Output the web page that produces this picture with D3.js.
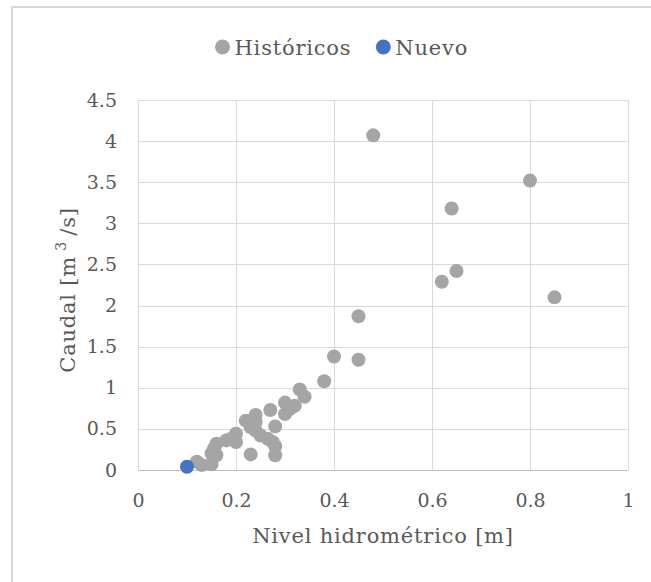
<!DOCTYPE html>
<html>
<head>
<meta charset="utf-8">
<script src="https://cdn.jsdelivr.net/npm/d3@7"></script>
<style>
  html, body { margin: 0; padding: 0; background: #fff; }
  svg { display: block; }
  text { font-family: "DejaVu Serif", "Liberation Serif", serif; fill: #595959; }
</style>
</head>
<body>
<svg id="chart" width="651" height="582"></svg>
<script>
// Historical gauge readings: level [m] and flow [m3/s]
const histLevel = [0.48, 0.80, 0.64, 0.65, 0.62, 0.85, 0.45, 0.40, 0.45, 0.38,
  0.33, 0.34, 0.30, 0.32, 0.31, 0.30, 0.27, 0.24, 0.22, 0.24,
  0.28, 0.23, 0.24, 0.25, 0.265, 0.275, 0.28, 0.20, 0.19, 0.18,
  0.20, 0.16, 0.155, 0.15, 0.16, 0.23, 0.28, 0.12, 0.13, 0.15];
const histFlow = [4.07, 3.52, 3.18, 2.42, 2.29, 2.10, 1.87, 1.38, 1.34, 1.08,
  0.98, 0.89, 0.82, 0.78, 0.74, 0.68, 0.73, 0.67, 0.60, 0.58,
  0.53, 0.52, 0.48, 0.42, 0.38, 0.34, 0.29, 0.44, 0.38, 0.36,
  0.34, 0.32, 0.26, 0.20, 0.18, 0.19, 0.18, 0.10, 0.06, 0.07];
const newLevel = [0.10];
const newFlow = [0.04];

const xTicks = [0, 0.2, 0.4, 0.6, 0.8, 1];
const yTicks = [0, 0.5, 1, 1.5, 2, 2.5, 3, 3.5, 4, 4.5];

const series = [
  { name: 'Históricos', color: '#A5A5A5', x: histLevel, y: histFlow },
  { name: 'Nuevo', color: '#4472C4', x: newLevel, y: newFlow },
];

const svg = d3.select('#chart');
const plot = { left: 138, right: 628, top: 100, bottom: 470 };

const x = d3.scaleLinear().domain([0, 1]).range([plot.left, plot.right]);
const y = d3.scaleLinear().domain([0, 4.5]).range([plot.bottom, plot.top]);

// Chart frame (cut off on right/bottom like the source)
svg.append('path')
  .attr('d', 'M12,582 L12,7 L651,7')
  .attr('fill', 'none').attr('stroke', '#D9D9D9').attr('stroke-width', 2);

// Gridlines
svg.append('g').selectAll('line').data(yTicks.slice(1)).enter().append('line')
  .attr('x1', plot.left).attr('x2', plot.right)
  .attr('y1', d => Math.round(y(d)) + 0.5).attr('y2', d => Math.round(y(d)) + 0.5)
  .attr('stroke', '#D9D9D9').attr('stroke-width', 1);
svg.append('g').selectAll('line').data(xTicks).enter().append('line')
  .attr('y1', plot.top).attr('y2', plot.bottom)
  .attr('x1', d => Math.round(x(d)) + 0.5).attr('x2', d => Math.round(x(d)) + 0.5)
  .attr('stroke', '#D9D9D9').attr('stroke-width', 1);

// X axis line
svg.append('line')
  .attr('x1', plot.left).attr('x2', plot.right)
  .attr('y1', plot.bottom + 0.5).attr('y2', plot.bottom + 0.5)
  .attr('stroke', '#BFBFBF').attr('stroke-width', 1);

// Tick labels via d3 axes (tick marks hidden)
const xAxis = svg.append('g')
  .attr('transform', `translate(0,${plot.bottom})`)
  .call(d3.axisBottom(x).tickValues(xTicks).tickSize(0).tickPadding(24).tickFormat(d3.format('')));
const yAxis = svg.append('g')
  .attr('transform', `translate(${plot.left},0)`)
  .call(d3.axisLeft(y).tickValues(yTicks).tickSize(0).tickPadding(21).tickFormat(d3.format('')));
[xAxis, yAxis].forEach(a => {
  a.select('.domain').remove();
  a.selectAll('text').attr('font-family', '"DejaVu Serif", serif').attr('font-size', 19).attr('fill', '#595959');
});

// Axis titles
svg.append('text')
  .attr('x', (plot.left + plot.right) / 2).attr('y', 543)
  .attr('text-anchor', 'middle').attr('font-size', 21).attr('letter-spacing', 0.8)
  .text('Nivel hidrométrico [m]');

const yTitle = svg.append('text')
  .attr('transform', 'translate(75,290) rotate(-90)')
  .attr('text-anchor', 'middle').attr('font-size', 21).attr('letter-spacing', 0.8);
yTitle.append('tspan').text('Caudal [m');
yTitle.append('tspan').attr('dy', -9).attr('font-size', 14).text(' 3 ');
yTitle.append('tspan').attr('dy', 9).text('/s]');

// Points
series.forEach(s => {
  svg.append('g').selectAll('circle').data(s.x.map((v, i) => [v, s.y[i]])).enter()
    .append('circle')
    .attr('cx', d => x(d[0])).attr('cy', d => y(d[1]))
    .attr('r', 7)
    .attr('fill', s.color);
});

// Legend
const legend = svg.append('g').attr('transform', 'translate(0,47)');
let lx = 222.5;
series.forEach(s => {
  const g = legend.append('g').attr('transform', `translate(${lx},0)`);
  g.append('circle').attr('r', 7.5).attr('fill', s.color);
  const t = g.append('text').attr('x', 12).attr('y', 8)
    .attr('font-size', 21).attr('letter-spacing', 0.8).text(s.name);
  lx += 12 + t.node().getComputedTextLength() + 32;
});
</script>
</body>
</html>
